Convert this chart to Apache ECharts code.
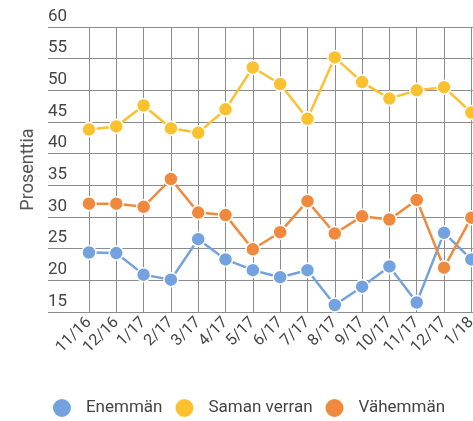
<!DOCTYPE html>
<html>
<head>
<meta charset="utf-8">
<script src="https://cdn.jsdelivr.net/npm/echarts@6/dist/echarts.min.js"></script>
<style>
  html, body { margin: 0; padding: 0; overflow: hidden; background: #fff; }
  #chart { width: 496px; height: 421px; }
</style>
</head>
<body>
<div id="chart"></div>
<script>
// months shown on the x axis (a blank slot first, like the original's left margin)
const months = ['', '11/16', '12/16', '1/17', '2/17', '3/17', '4/17', '5/17', '6/17',
    '7/17', '8/17', '9/17', '10/17', '11/17', '12/17', '1/18']

const enemman = [null, 24.4, 24.3, 20.9, 20.1, 26.5, 23.3, 21.6, 20.5, 21.6, 16.1, 19.0, 22.2, 16.5, 27.5, 23.3]
const samanVerran = [null, 43.8, 44.3, 47.6, 44.0, 43.3, 47.0, 53.6, 51.0, 45.5, 55.2, 51.3, 48.7, 50.0, 50.5, 46.5]
const vahemman = [null, 32.1, 32.1, 31.6, 36.0, 30.7, 30.3, 24.9, 27.6, 32.5, 27.4, 30.1, 29.6, 32.7, 22.0, 29.9]

const colors = ['#74a2de', '#fbc12e', '#f0883e']
const font = 'Roboto, sans-serif'

const myChart = echarts.init(document.getElementById('chart'))

const line = (name, data) => ({
    name: name,
    type: 'line',
    data: data,
    symbol: 'circle',
    symbolSize: 14,
    lineStyle: { width: 2.5 },
    itemStyle: { borderColor: '#fff', borderWidth: 1.5 },
    emphasis: { disabled: true }
})

myChart.setOption({
    animation: false,
    color: colors,
    textStyle: { fontFamily: font },
    grid: { left: 48, right: 11, top: 27, bottom: 109, containLabel: false },
    legend: {
        bottom: -3,
        left: 'center',
        icon: 'circle',
        itemWidth: 38,
        itemHeight: 20,
        itemGap: 11,
        textStyle: { fontSize: 17, color: '#444', fontFamily: font },
        data: ['Enemmän', 'Saman verran', 'Vähemmän']
    },
    xAxis: {
        type: 'category',
        data: months,
        boundaryGap: true,
        axisLine: { show: false },
        axisTick: { show: false },
        axisLabel: {
            rotate: 45,
            margin: 8,
            interval: 0,
            fontSize: 16,
            color: '#444'
        },
        splitLine: {
            show: true,
            alignWithLabel: true,
            interval: (idx) => idx > 0,
            lineStyle: { color: '#8c8c8c', width: 1 }
        }
    },
    yAxis: {
        type: 'value',
        min: 15,
        max: 60,
        interval: 5,
        name: 'Prosenttia',
        nameLocation: 'middle',
        nameGap: 11,
        nameTextStyle: { fontSize: 18, color: '#555' },
        axisLine: { show: false },
        axisTick: { show: false },
        axisLabel: {
            inside: true,
            margin: 0,
            verticalAlign: 'bottom',
            padding: [0, 0, 2, 0],
            fontSize: 17,
            color: '#444'
        },
        splitLine: { lineStyle: { color: '#8c8c8c', width: 1 } }
    },
    series: [
        line('Enemmän', enemman),
        line('Saman verran', samanVerran),
        line('Vähemmän', vahemman)
    ]
})
</script>
</body>
</html>
